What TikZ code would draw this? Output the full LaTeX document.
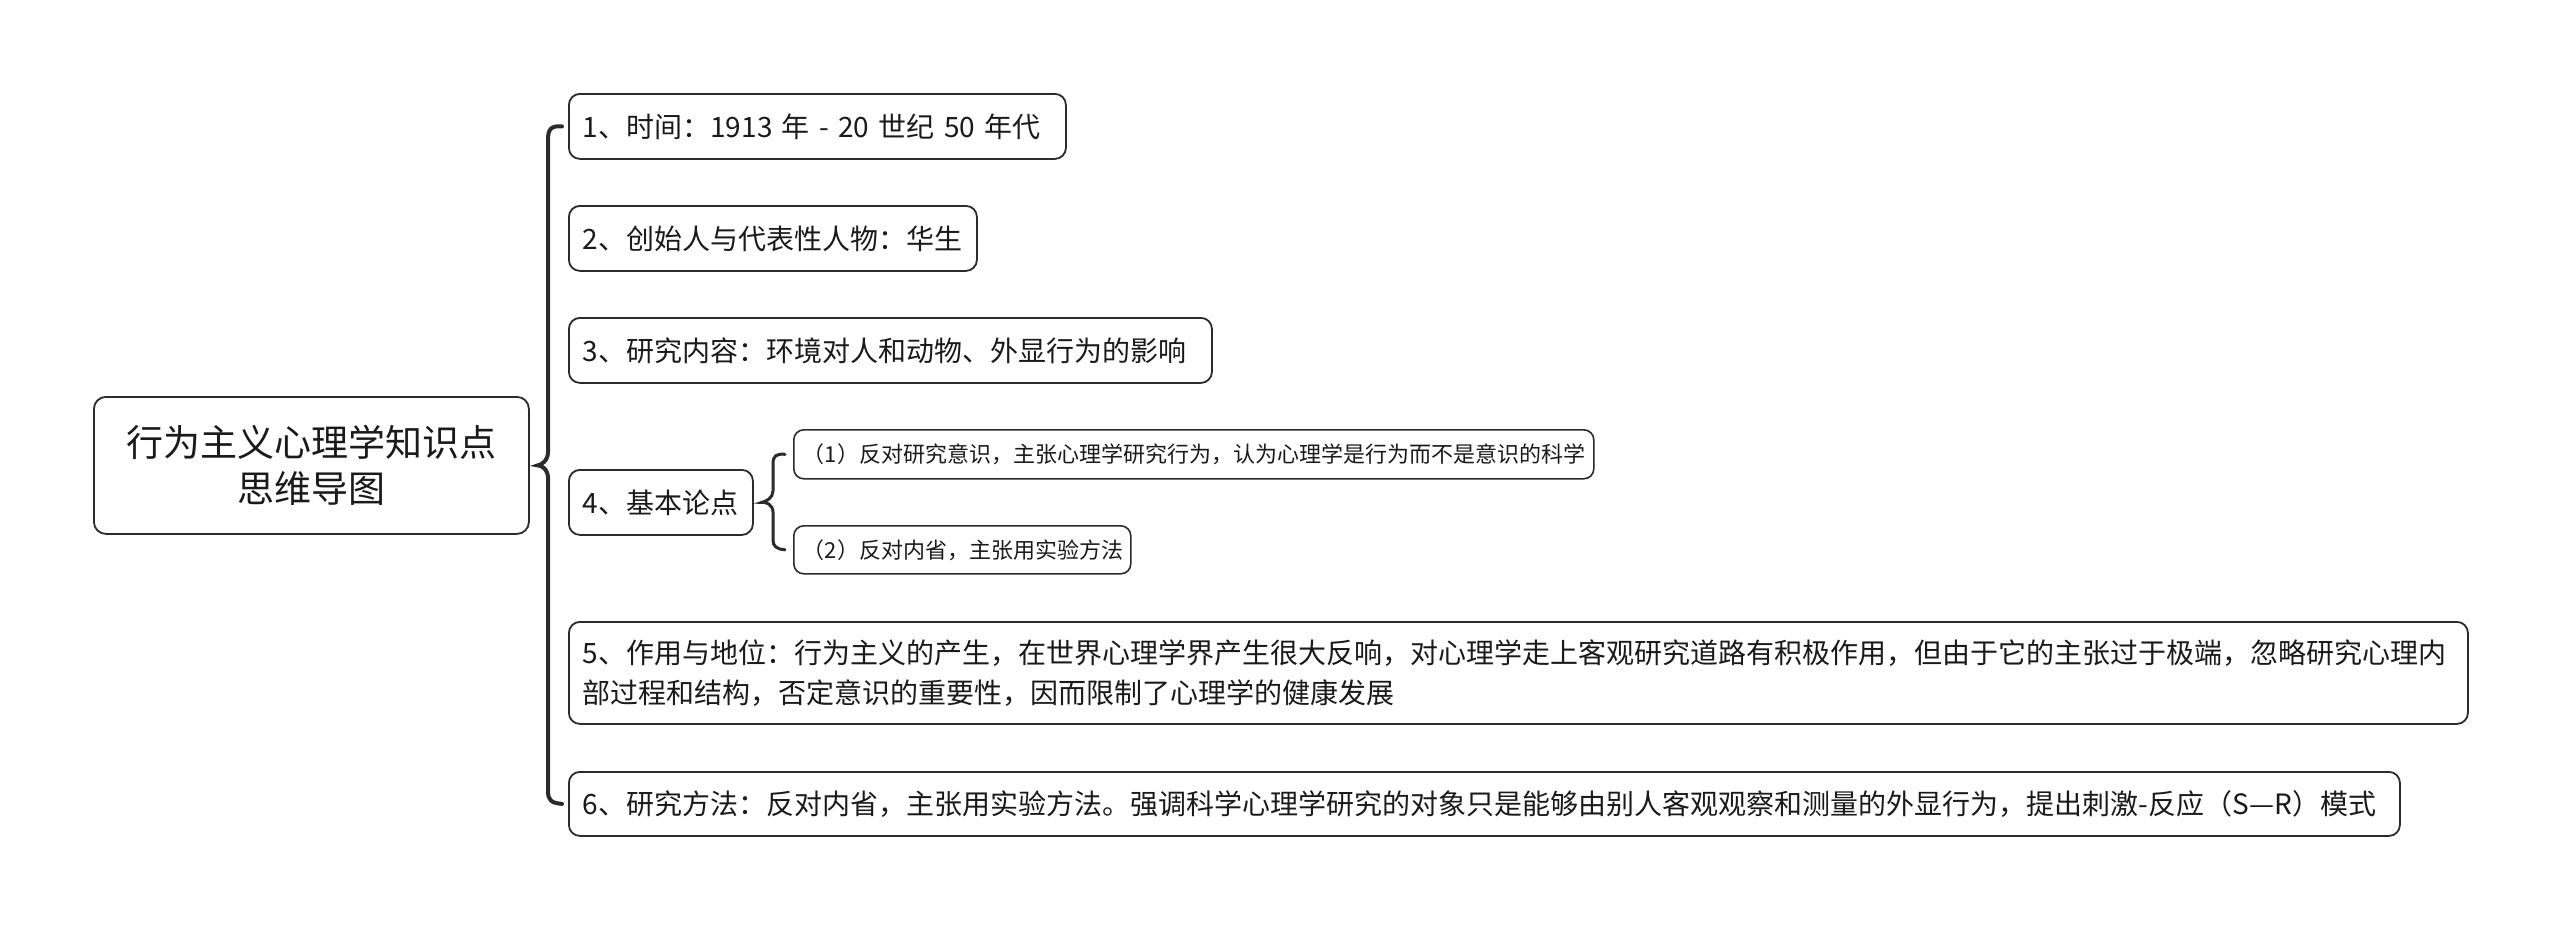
\documentclass[tikz,border=0pt]{standalone}
\usepackage{fontspec}
\setmainfont{Noto Sans CJK SC}
\definecolor{edge}{HTML}{2B2B2B}
\definecolor{ink}{HTML}{1A1A1A}
\tikzset{
  mbox/.style={draw=edge, line width=1.8pt, rounded corners=11pt, anchor=north west,
    inner xsep=14pt, inner ysep=0pt, align=left, text=ink,
    font=\fontsize{28}{40}\selectfont},
  sbox/.style={draw=edge, line width=1.6pt, rounded corners=10pt, anchor=north west,
    inner xsep=9pt, inner ysep=0pt, align=left, text=ink,
    font=\fontsize{22}{28}\selectfont},
  rootbox/.style={draw=edge, line width=1.8pt, rounded corners=12pt, anchor=north west,
    inner xsep=10pt, inner ysep=0pt, align=center, text=ink,
    font=\fontsize{37}{46}\selectfont},
  bigbrace/.style={draw=edge, line width=4pt, line cap=round},
  smallbrace/.style={draw=edge, line width=3pt, line cap=round}
}
\begin{document}
\begin{tikzpicture}[x=1pt,y=-1pt]
\useasboundingbox[fill=white] (0,0) rectangle (2560,929);

\node[rootbox, text width=415pt, minimum height=137pt] (root) at (93,396)
  {行为主义心理学知识点\\思维导图};

\node[mbox, text width=469pt, minimum height=65pt] (b1) at (568,93)
  {\mbox{1、时间：1913 年 - 20 世纪 50 年代}};
\node[mbox, text width=380pt, minimum height=65pt] (b2) at (568,205)
  {\mbox{2、创始人与代表性人物：华生}};
\node[mbox, text width=615pt, minimum height=65pt] (b3) at (568,317)
  {\mbox{3、研究内容：环境对人和动物、外显行为的影响}};
\node[mbox, text width=156pt, minimum height=65pt] (b4) at (568,469)
  {\mbox{4、基本论点}};
\node[mbox, text width=1871pt, minimum height=102pt] (b5) at (568,621)
  {\mbox{5、作用与地位：行为主义的产生，在世界心理学界产生很大反响，对心理学走上客观研究道路有积极作用，但由于它的主张过于极端，忽略研究心理内}\\\mbox{部过程和结构，否定意识的重要性，因而限制了心理学的健康发展}};
\node[mbox, text width=1803pt, minimum height=64pt] (b6) at (568,771)
  {\mbox{6、研究方法：反对内省，主张用实验方法。强调科学心理学研究的对象只是能够由别人客观观察和测量的外显行为，提出刺激-反应（S—R）模式}};

\node[sbox, text width=782pt, minimum height=49pt] (s1) at (793,429)
  {\mbox{（1）反对研究意识，主张心理学研究行为，认为心理学是行为而不是意识的科学}};
\node[sbox, text width=319pt, minimum height=48pt] (s2) at (793,525)
  {\mbox{（2）反对内省，主张用实验方法}};

% main brace
\coordinate (tip) at ([xshift=8pt]root.east);
\coordinate (top) at ([xshift=-6pt]b1.west);
\coordinate (bot) at ([xshift=-6pt]b6.west);
\draw[bigbrace] (top) .. controls (551,125.5) and (548,129) .. (548,140)
  -- (548,452) .. controls (548,461) and (541,465) .. (tip)
  .. controls (541,465) and (548,469) .. (548,478)
  -- (548,791) .. controls (548,800) and (551,803) .. (bot);

% sub brace
\coordinate (stip) at ([xshift=8pt]b4.east);
\coordinate (stop) at ([xshift=-8pt]s1.west);
\coordinate (sbot) at ([xshift=-8pt]s2.west);
\draw[smallbrace] (stop) .. controls (776,453.5) and (773,456) .. (773,464)
  -- (773,491) .. controls (773,498) and (766,501.5) .. (stip)
  .. controls (766,501.5) and (773,505) .. (773,512)
  -- (773,540) .. controls (773,546) and (776,549) .. (sbot);
\end{tikzpicture}
\end{document}
